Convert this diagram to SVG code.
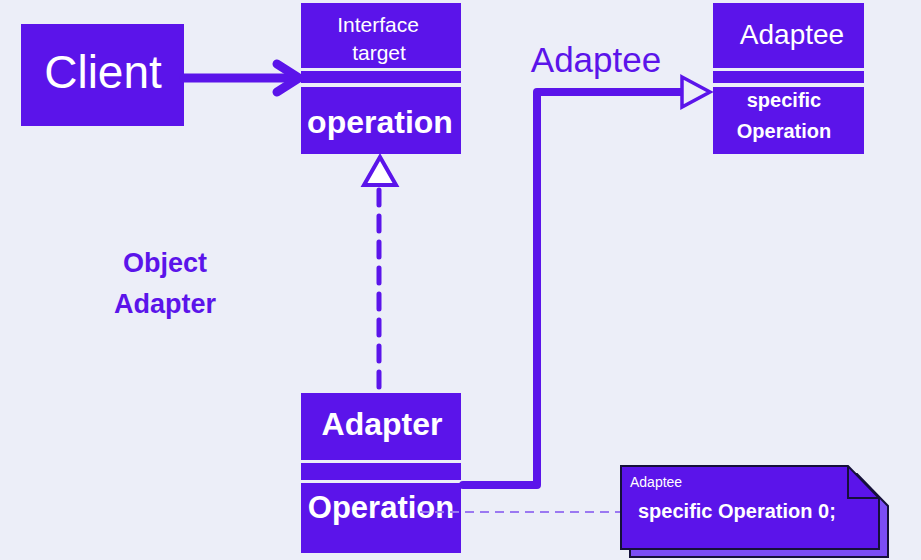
<svg xmlns="http://www.w3.org/2000/svg" width="921" height="560" viewBox="0 0 921 560">
<style>
.box{fill:#5B14EA}
.wt{fill:#FFFFFF;font-family:"Liberation Sans",Arial,sans-serif}
.pt{fill:#5B14EA;font-family:"Liberation Sans",Arial,sans-serif}
.b{font-weight:bold}
.line{fill:none;stroke:#5B14EA;stroke-linecap:round;stroke-linejoin:round}
</style>
<rect x="0" y="0" width="921" height="560" fill="#ECEEF8"/>
<g id="client">
<rect class="box" x="21" y="24" width="163" height="102"/>
<text class="wt" x="103" y="88" font-size="46" text-anchor="middle">Client</text>
</g>
<g id="interface-target">
<rect class="box" x="301" y="3" width="160" height="65"/>
<rect class="box" x="301" y="71" width="160" height="12"/>
<rect class="box" x="301" y="87" width="160" height="67"/>
<text class="wt" x="378" y="32" font-size="21" text-anchor="middle">Interface</text>
<text class="wt" x="379" y="60" font-size="21" text-anchor="middle">target</text>
<text class="wt b" x="380" y="133" font-size="32" text-anchor="middle">operation</text>
</g>
<g id="adaptee">
<rect class="box" x="713" y="3" width="151" height="65"/>
<rect class="box" x="713" y="71" width="151" height="12"/>
<rect class="box" x="713" y="87" width="151" height="67"/>
<text class="wt" x="792" y="44" font-size="28" text-anchor="middle">Adaptee</text>
<text class="wt b" x="784" y="107" font-size="20" text-anchor="middle">specific</text>
<text class="wt b" x="784" y="138" font-size="20" text-anchor="middle">Operation</text>
</g>
<g id="adaptee-label">
<text class="pt" x="596" y="72" font-size="35" text-anchor="middle">Adaptee</text>
</g>
<g id="object-adapter-label">
<text class="pt b" x="165" y="272" font-size="27" text-anchor="middle">Object</text>
<text class="pt b" x="165" y="313" font-size="27" text-anchor="middle">Adapter</text>
</g>
<g id="adapter">
<rect class="box" x="301" y="393" width="160" height="67"/>
<rect class="box" x="301" y="463" width="160" height="17"/>
<rect class="box" x="301" y="483" width="160" height="70"/>
<text class="wt b" x="382" y="435" font-size="32" text-anchor="middle">Adapter</text>
<text class="wt b" x="381" y="518" font-size="31" text-anchor="middle">Operation</text>
</g>
<g id="connectors">
<line class="line" x1="184" y1="78" x2="296" y2="78" stroke-width="9"/>
<polyline class="line" points="277,64 299,78 277,92" stroke-width="9"/>
<line class="line" x1="379" y1="190" x2="379" y2="390" stroke-width="5" stroke-dasharray="15 11" stroke-linecap="butt"/>
<polygon points="380,157 396,185 364,185" fill="#FFFFFF" stroke="#5B14EA" stroke-width="4" stroke-linejoin="miter"/>
<polyline class="line" points="463,485 537,485 537,92 682,92" stroke-width="8"/>
<polygon points="682,77 710,92 682,107" fill="#ECEEF8" stroke="#5B14EA" stroke-width="3.5" stroke-linejoin="miter"/>
<line x1="420" y1="512" x2="620" y2="512" stroke="#9B78F2" stroke-width="2" stroke-dasharray="9 6"/>
</g>
<g id="note">
<path d="M630,474 L857,474 L888,506 L888,557 L630,557 Z" fill="#7B4DF5" stroke="#15103A" stroke-width="2"/>
<path d="M621,466 L848,466 L879,498 L879,549 L621,549 Z" fill="#5B14EA" stroke="#15103A" stroke-width="2"/>
<path d="M848,466 L848,498 L879,498" fill="none" stroke="#15103A" stroke-width="2"/>
<text class="wt" x="630" y="487" font-size="14">Adaptee</text>
<text class="wt b" x="638" y="518" font-size="20">specific Operation 0;</text>
</g>
</svg>
